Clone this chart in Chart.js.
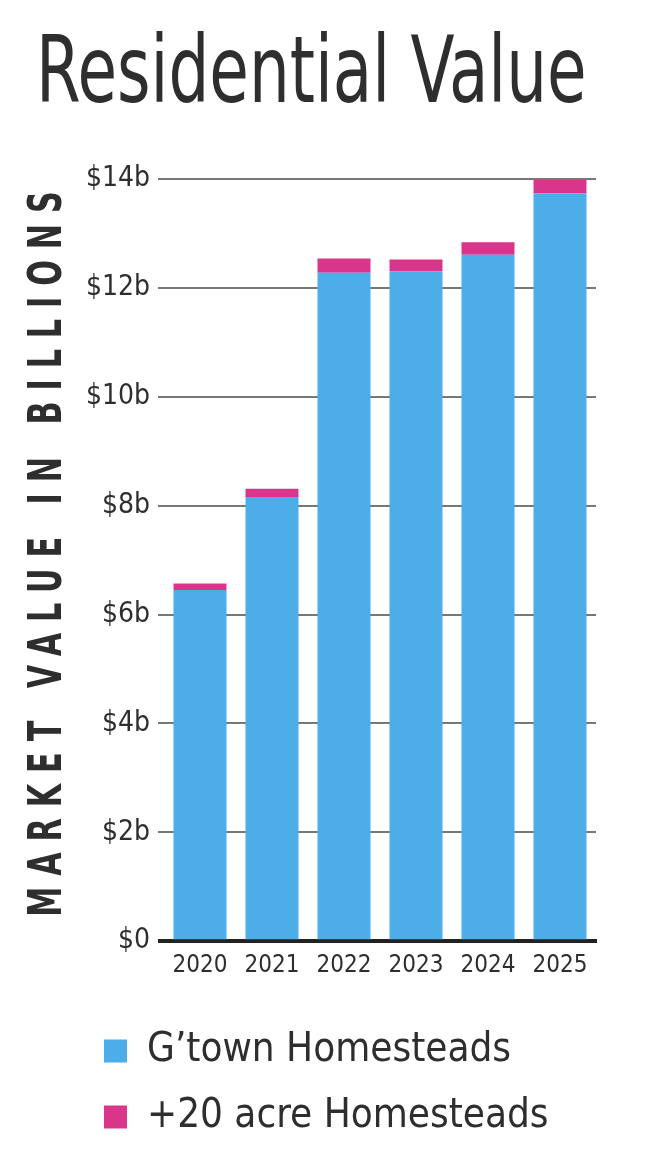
<!DOCTYPE html>
<html>
<head>
<meta charset="utf-8">
<script src="https://cdn.jsdelivr.net/npm/chart.js@4"></script>
<style>
  html, body { margin: 0; padding: 0; background: #fff; }
  #wrap { width: 648px; height: 1162px; }
</style>
</head>
<body>
<div id="wrap"><canvas id="valueChart" width="648" height="1162"></canvas></div>
<script>
const years = ['2020', '2021', '2022', '2023', '2024', '2025'];
const gtownValues = [6.45, 8.16, 12.28, 12.30, 12.61, 13.74];
const acreValues = [0.12, 0.15, 0.26, 0.22, 0.23, 0.24];
const seriesNames = ["G\u2019town Homesteads", '+20 acre Homesteads'];
const titleText = 'Residential Value';
const axisTitle = 'MARKET VALUE IN BILLIONS';

const family = "'DejaVu Sans Condensed', 'DejaVu Sans', sans-serif";
const ink = '#2e2e2e';

// headline + spaced out y axis title (drawn by hand, the fonts here are wider than the original)
const headings = {
    id: 'headings',
    afterDraw(chart) {
        const ctx = chart.ctx;
        ctx.save();
        ctx.fillStyle = ink;
        ctx.font = '71.5px ' + family;
        ctx.textAlign = 'left';
        ctx.textBaseline = 'alphabetic';
        ctx.translate(36, 102);
        ctx.scale(1, 1.29);
        ctx.fillText(titleText, 0, 0);
        ctx.restore();

        ctx.save();
        ctx.fillStyle = ink;
        ctx.translate(61, 554);
        ctx.rotate(-Math.PI / 2);
        ctx.scale(0.73, 1);
        ctx.font = 'bold 46px ' + family;
        ctx.letterSpacing = '15px';
        ctx.textAlign = 'center';
        ctx.textBaseline = 'alphabetic';
        ctx.fillText(axisTitle, 7.5, 0);
        ctx.restore();
    }
};

const data = {
    labels: years,
    datasets: [{
        label: seriesNames[0],
        data: gtownValues,
        backgroundColor: '#4cade8'
    }, {
        label: seriesNames[1],
        data: acreValues,
        backgroundColor: '#d9368b'
    }]
};

const config = {
    type: 'bar',
    data: data,
    options: {
        responsive: false,
        animation: false,
        layout: {
            padding: { top: 179, left: 78, right: 52, bottom: 15 }
        },
        datasets: {
            bar: { categoryPercentage: 1, barPercentage: 0.736 }
        },
        scales: {
            x: {
                stacked: true,
                afterFit: function (s) { s.height += 23; },
                grid: { display: false },
                border: { color: '#222', width: 4 },
                ticks: {
                    color: ink,
                    autoSkip: false,
                    maxRotation: 0,
                    padding: 2,
                    font: { family: family, size: 24 }
                }
            },
            y: {
                stacked: true,
                min: 0,
                max: 14,
                afterFit: function (s) { s.width = 86; },
                border: { display: false },
                grid: {
                    color: (c) => c.tick && c.tick.value === 0 ? '#222' : '#777',
                    lineWidth: (c) => c.tick && c.tick.value === 0 ? 4 : 2,
                    tickLength: 6
                },
                ticks: {
                    stepSize: 2,
                    color: ink,
                    padding: 8,
                    font: { family: family, size: 28 },
                    callback: (v) => '$' + v + (v ? 'b' : '')
                }
            }
        },
        plugins: {
            legend: {
                position: 'bottom',
                align: 'start',
                labels: {
                    color: ink,
                    boxWidth: 23,
                    boxHeight: 23,
                    padding: 26,
                    font: { family: family, size: 40 }
                }
            },
            tooltip: { enabled: false }
        }
    },
    plugins: [headings]
};

let valueChart = new Chart(document.getElementById('valueChart'), config);
</script>
</body>
</html>
